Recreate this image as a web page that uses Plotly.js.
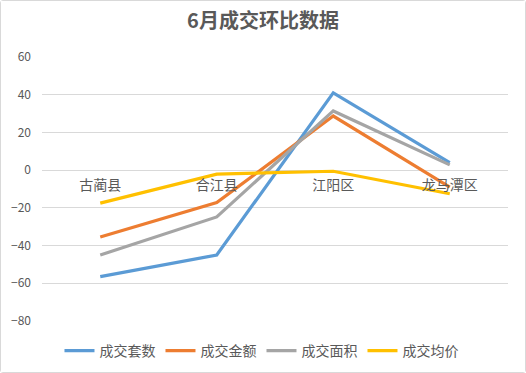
<!DOCTYPE html>
<html>
<head>
<meta charset="utf-8">
<script src="https://cdn.plot.ly/plotly-3.0.1.min.js"></script>
<style>
html,body{margin:0;padding:0;background:#fff;}
#chart{width:524px;height:371px;border:1px solid #d9d9d9;border-radius:3px;}
</style>
</head>
<body>
<div id="chart"></div>
<script>
const categories = ["古蔺县", "合江县", "江阳区", "龙马潭区"];
const seriesNames = ["成交套数", "成交金额", "成交面积", "成交均价"];
const taoshu = [-56.5, -45, 41, 4];
const jine = [-35.5, -17.2, 28.7, -9];
const mianji = [-45, -24.8, 31.4, 2.8];
const junjia = [-17.5, -2.1, -0.6, -12.5];
const colors = ["#5B9BD5", "#ED7D31", "#A5A5A5", "#FFC000"];
const yMin = -80, yMax = 60;

const values = [taoshu, jine, mianji, junjia];
const traces = values.map((v, i) => ({
  type: "scatter",
  mode: "lines",
  x: categories,
  y: v,
  name: seriesNames[i],
  line: {color: colors[i], width: 3.2},
  hoverinfo: "skip"
}));

const font = {family: "'Noto Sans CJK SC', 'Noto Sans', sans-serif", color: "#595959"};

const layout = {
  width: 524,
  height: 371,
  margin: {l: 41, r: 17, t: 56, b: 51, autoexpand: false},
  paper_bgcolor: "#ffffff",
  plot_bgcolor: "#ffffff",
  font: Object.assign({size: 12}, font),
  title: {
    text: "6月成交环比数据",
    font: Object.assign({}, font, {size: 20, weight: 600}),
    x: 0.5, xanchor: "center", y: 0.945, yanchor: "middle"
  },
  xaxis: {
    type: "category",
    range: [-0.5, categories.length - 0.5],
    anchor: "free",
    position: (0 - yMin) / (yMax - yMin),
    showgrid: false,
    showline: false,
    zeroline: false,
    ticks: "",
    ticklabelstandoff: 5,
    automargin: false,
    tickfont: Object.assign({}, font, {size: 14}),
    fixedrange: true
  },
  yaxis: {
    range: [yMin, yMax],
    dtick: 20,
    tick0: 0,
    showgrid: true,
    gridcolor: "#d9d9d9",
    gridwidth: 1,
    zeroline: false,
    showline: false,
    ticks: "",
    ticklabelstandoff: 10,
    automargin: false,
    tickfont: Object.assign({}, font, {size: 12}),
    fixedrange: true
  },
  showlegend: true,
  legend: {
    orientation: "h",
    x: 0.471, xanchor: "center",
    y: -0.114, yanchor: "middle",
    font: Object.assign({}, font, {size: 14}),
    itemwidth: 30,
    tracegroupgap: 0
  }
};

Plotly.newPlot("chart", traces, layout, {displayModeBar: false, staticPlot: true});
</script>
</body>
</html>
